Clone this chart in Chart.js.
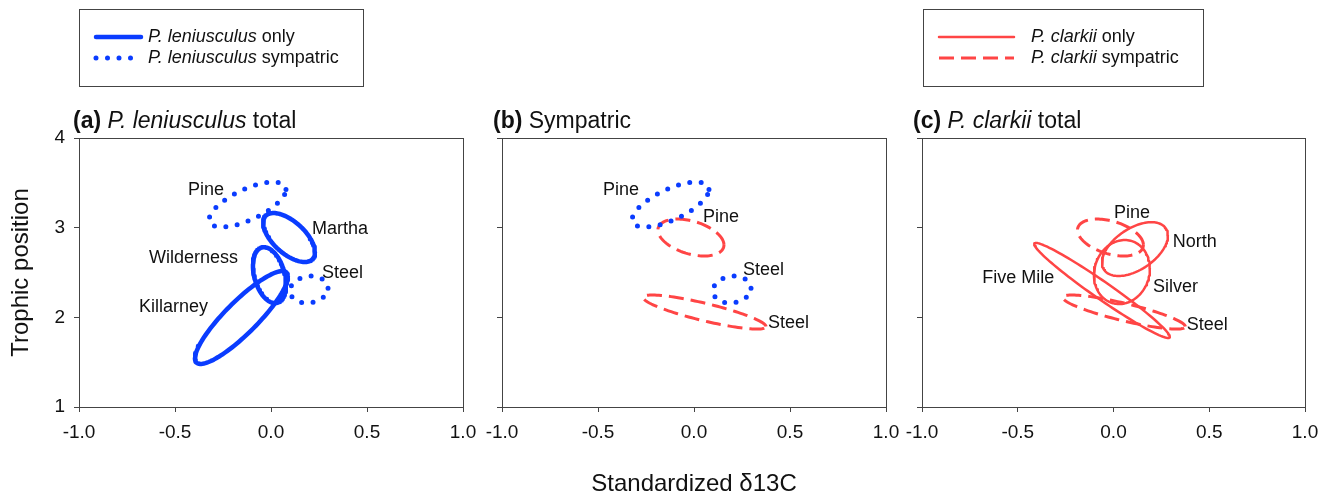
<!DOCTYPE html>
<html lang="en">
<head>
<meta charset="UTF-8">
<title>Isotopic niche ellipses</title>
<script src="https://cdn.jsdelivr.net/npm/chart.js"></script>
<style>
  body { margin: 0; background: #fff; width: 1321px; height: 492px; position: relative; overflow: hidden; }
  canvas { position: absolute; top: 0; }
</style>
</head>
<body>
<canvas id="panelA" width="480" height="492" style="left:0px"></canvas>
<canvas id="panelB" width="425" height="492" style="left:480px"></canvas>
<canvas id="panelC" width="416" height="492" style="left:905px"></canvas>
<script>
// axis ticks
const xTicks = [-1.0, -0.5, 0.0, 0.5, 1.0];
const yTicks = [1, 2, 3, 4];

// standard ellipses: centre, half-range in x / y (data units), correlation (tilt)
// P. leniusculus only: Killarney, Wilderness, Martha
const lenOnlyCx  = [-0.154, -0.008, 0.094];
const lenOnlyCy  = [1.998, 2.47, 2.89];
const lenOnlySx  = [0.242, 0.086, 0.135];
const lenOnlySy  = [0.518, 0.312, 0.273];
const lenOnlyRho = [0.88, -0.33, -0.6];

// P. leniusculus sympatric: Pine, Steel
const lenSymCx  = [-0.122, 0.198];
const lenSymCy  = [3.258, 2.31];
const lenSymSx  = [0.2, 0.099];
const lenSymSy  = [0.251, 0.15];
const lenSymRho = [0.67, 0.1];

// P. clarkii sympatric: Pine, Steel
const claSymCx  = [-0.016, 0.055];
const claSymCy  = [2.89, 2.059];
const claSymSx  = [0.172, 0.32];
const claSymSy  = [0.206, 0.19];
const claSymRho = [-0.4, -0.85];

// P. clarkii only: Five Mile, North, Silver
const claOnlyCx  = [-0.06, 0.112, 0.044];
const claOnlyCy  = [2.30, 2.761, 2.505];
const claOnlySx  = [0.354, 0.172, 0.146];
const claOnlySy  = [0.53, 0.30, 0.357];
const claOnlyRho = [-0.975, 0.5, 0.1];

// site labels (left edge of text, data units)
const labelsA  = ['Pine', 'Martha', 'Wilderness', 'Steel', 'Killarney'];
const labelsAx = [-0.432, 0.214, -0.635, 0.266, -0.688];
const labelsAy = [3.42, 2.985, 2.66, 2.49, 2.115];

const labelsB  = ['Pine', 'Pine', 'Steel', 'Steel'];
const labelsBx = [-0.474, 0.047, 0.255, 0.385];
const labelsBy = [3.42, 3.12, 2.53, 1.94];

const labelsC  = ['Pine', 'North', 'Five Mile', 'Silver', 'Steel'];
const labelsCx = [0.003, 0.31, -0.685, 0.206, 0.383];
const labelsCy = [3.16, 2.84, 2.44, 2.34, 1.91];

const BLUE = '#0a3cff';
const RED = '#ff4545';
const FONT = "'Liberation Sans', Arial, Helvetica, sans-serif";

const styleLenOnly = { borderColor: BLUE, borderWidth: 4.5, borderCapStyle: 'round', borderJoinStyle: 'round' };
const styleLenSym  = { borderColor: BLUE, borderWidth: 5, borderDash: [0, 11.5], borderCapStyle: 'round' };
const styleClaOnly = { borderColor: RED, borderWidth: 2.5, borderCapStyle: 'round', borderJoinStyle: 'round' };
const styleClaSym  = { borderColor: RED, borderWidth: 3, borderDash: [15, 7] };

function ellipse(cx, cy, sx, sy, rho) {
    const phi = Math.acos(rho);
    const pts = [];
    for (let i = 0; i <= 120; i++) {
        const t = i / 120 * 2 * Math.PI;
        pts.push({ x: cx + sx * Math.cos(t), y: cy + sy * Math.cos(t - phi) });
    }
    return pts;
}

function ellipseSets(cxs, cys, sxs, sys, rhos, style) {
    return cxs.map((cx, i) => Object.assign({
        data: ellipse(cx, cys[i], sxs[i], sys[i], rhos[i]),
        showLine: true,
        pointRadius: 0,
        pointHoverRadius: 0,
        fill: false,
        tension: 0
    }, style));
}

function framePlugin() {
    return {
        id: 'frame',
        beforeDatasetsDraw(chart) {
            const a = chart.chartArea, ctx = chart.ctx;
            ctx.save();
            ctx.strokeStyle = '#444';
            ctx.lineWidth = 1;
            ctx.strokeRect(Math.round(a.left) + 0.5, Math.round(a.top) + 0.5,
                Math.round(a.right - a.left), Math.round(a.bottom - a.top));
            ctx.restore();
        }
    };
}

function labelPlugin(texts, xs, ys) {
    return {
        id: 'siteLabels',
        afterDatasetsDraw(chart) {
            const ctx = chart.ctx, sx = chart.scales.x, sy = chart.scales.y;
            ctx.save();
            ctx.font = '18px ' + FONT;
            ctx.fillStyle = '#111';
            ctx.textAlign = 'left';
            ctx.textBaseline = 'middle';
            texts.forEach((t, i) => ctx.fillText(t, sx.getPixelForValue(xs[i]), sy.getPixelForValue(ys[i])));
            ctx.restore();
        }
    };
}

function titlePlugin(parts, styles, x, y) {
    return {
        id: 'panelTitle',
        afterDraw(chart) {
            const ctx = chart.ctx;
            ctx.save();
            ctx.fillStyle = '#111';
            ctx.textBaseline = 'middle';
            let cx = x;
            parts.forEach((p, i) => {
                ctx.font = styles[i] + ' 23px ' + FONT;
                ctx.fillText(p, cx, y);
                cx += ctx.measureText(p).width;
            });
            ctx.restore();
        }
    };
}

function legendPlugin(box, lineX, textX, italics, rests, styles) {
    return {
        id: 'legendBox',
        afterDraw(chart) {
            const ctx = chart.ctx;
            ctx.save();
            ctx.strokeStyle = '#444';
            ctx.lineWidth = 1;
            ctx.strokeRect(box[0] + 0.5, box[1] + 0.5, box[2], box[3]);
            const rows = [37, 58];
            italics.forEach((it, i) => {
                const s = styles[i];
                ctx.beginPath();
                ctx.setLineDash(s.borderDash || []);
                ctx.lineCap = s.borderCapStyle || 'butt';
                ctx.lineWidth = s.borderWidth;
                ctx.strokeStyle = s.borderColor;
                ctx.moveTo(lineX[0], rows[i]);
                ctx.lineTo(lineX[1], rows[i]);
                ctx.stroke();
                ctx.fillStyle = '#111';
                ctx.textBaseline = 'middle';
                ctx.font = 'italic 18px ' + FONT;
                ctx.fillText(it, textX, rows[i]);
                const w = ctx.measureText(it).width;
                ctx.font = '18px ' + FONT;
                ctx.fillText(rests[i], textX + w, rows[i]);
            });
            ctx.restore();
        }
    };
}

function makeChart(id, cfg) {
    return new Chart(document.getElementById(id), {
        type: 'scatter',
        data: { datasets: cfg.datasets },
        options: {
            responsive: false,
            animation: false,
            events: [],
            layout: { padding: { left: 0, right: cfg.padRight, top: 138, bottom: 0 } },
            plugins: { legend: { display: false }, tooltip: { enabled: false } },
            scales: {
                x: {
                    type: 'linear', min: -1, max: 1,
                    afterBuildTicks: s => { s.ticks = xTicks.map(v => ({ value: v })); },
                    afterFit: s => { s.height = 85; s.paddingLeft = 0; s.paddingRight = 0; },
                    grid: { drawOnChartArea: false, drawTicks: true, tickLength: 5, color: '#444' },
                    border: { display: false },
                    ticks: {
                        color: '#111', padding: 9, maxRotation: 0, autoSkip: false,
                        font: { family: FONT, size: 19 },
                        callback: v => Number(v).toFixed(1)
                    },
                    title: {
                        display: !!cfg.xTitle, text: cfg.xTitle || '', color: '#111',
                        font: { family: FONT, size: 24, lineHeight: 0.6 },
                        padding: { top: 0, bottom: 0 }
                    }
                },
                y: {
                    type: 'linear', min: 1, max: 4,
                    afterBuildTicks: s => { s.ticks = yTicks.map(v => ({ value: v })); },
                    afterFit: s => { s.width = cfg.yWidth; s.paddingTop = 0; s.paddingBottom = 0; },
                    grid: { drawOnChartArea: false, drawTicks: true, tickLength: 5, color: '#444' },
                    border: { display: false },
                    ticks: {
                        display: cfg.yLabels, color: '#111', padding: 9,
                        font: { family: FONT, size: 19 },
                        callback: v => String(v)
                    },
                    title: {
                        display: !!cfg.yTitle, text: cfg.yTitle || '', color: '#111',
                        font: { family: FONT, size: 24 },
                        padding: { top: 6.6, bottom: 0 }
                    }
                }
            }
        },
        plugins: cfg.plugins
    });
}

makeChart('panelA', {
    yWidth: 79, padRight: 17, yLabels: true, yTitle: 'Trophic position',
    datasets: [
        ...ellipseSets(lenOnlyCx, lenOnlyCy, lenOnlySx, lenOnlySy, lenOnlyRho, styleLenOnly),
        ...ellipseSets(lenSymCx, lenSymCy, lenSymSx, lenSymSy, lenSymRho, styleLenSym)
    ],
    plugins: [
        framePlugin(),
        labelPlugin(labelsA, labelsAx, labelsAy),
        titlePlugin(['(a) ', 'P. leniusculus', ' total'], ['bold', 'italic', 'normal'], 73, 122),
        legendPlugin([79, 9, 284, 77], [96, 141], 148,
            ['P. leniusculus', 'P. leniusculus'], [' only', ' sympatric'], [styleLenOnly, styleLenSym])
    ]
});

makeChart('panelB', {
    yWidth: 22, padRight: 19, yLabels: false, xTitle: 'Standardized \u03b413C',
    datasets: [
        ...ellipseSets(lenSymCx, lenSymCy, lenSymSx, lenSymSy, lenSymRho, styleLenSym),
        ...ellipseSets(claSymCx, claSymCy, claSymSx, claSymSy, claSymRho, styleClaSym)
    ],
    plugins: [
        framePlugin(),
        labelPlugin(labelsB, labelsBx, labelsBy),
        titlePlugin(['(b) ', 'Sympatric'], ['bold', 'normal'], 13, 122)
    ]
});

makeChart('panelC', {
    yWidth: 17, padRight: 16, yLabels: false,
    datasets: [
        ...ellipseSets(claOnlyCx, claOnlyCy, claOnlySx, claOnlySy, claOnlyRho, styleClaOnly),
        ...ellipseSets(claSymCx, claSymCy, claSymSx, claSymSy, claSymRho, styleClaSym)
    ],
    plugins: [
        framePlugin(),
        labelPlugin(labelsC, labelsCx, labelsCy),
        titlePlugin(['(c) ', 'P. clarkii', ' total'], ['bold', 'italic', 'normal'], 8, 122),
        legendPlugin([18, 9, 280, 77], [34, 109], 126,
            ['P. clarkii', 'P. clarkii'], [' only', ' sympatric'], [styleClaOnly, styleClaSym])
    ]
});
</script>
</body>
</html>
